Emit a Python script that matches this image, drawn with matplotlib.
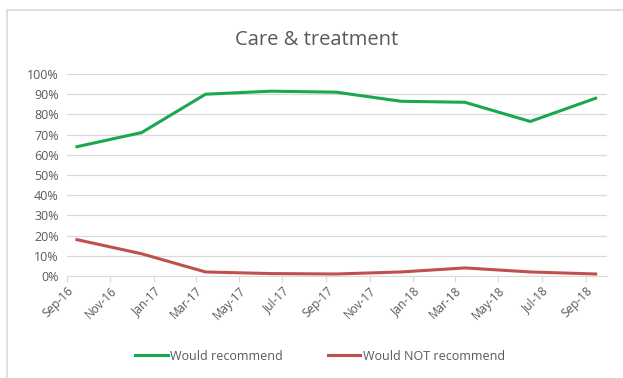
import datetime as dt
import matplotlib.pyplot as plt
import matplotlib.dates as mdates
from matplotlib.patches import Rectangle
from matplotlib.ticker import MultipleLocator, PercentFormatter

plt.rcParams['font.family'] = ['Open Sans', 'DejaVu Sans']

# quarterly survey results (mid-month)
survey_dates = [dt.date(2016, 9, 15), dt.date(2016, 12, 15), dt.date(2017, 3, 15),
                dt.date(2017, 6, 15), dt.date(2017, 9, 15), dt.date(2017, 12, 15),
                dt.date(2018, 3, 15), dt.date(2018, 6, 15), dt.date(2018, 9, 15)]
would_recommend = [64, 71, 90, 91.5, 91, 86.5, 86, 76.5, 88]
would_not_recommend = [18, 11, 2, 1.2, 1, 2, 4, 2, 1]

grey = '#595959'

fig = plt.figure(figsize=(6.23, 3.78), dpi=100)
# chart frame
fig.patches.append(Rectangle((7 / 623, -0.1), 1.2, 1.1 - 10 / 378, transform=fig.transFigure,
                             fill=False, edgecolor='#d9d9d9', linewidth=1.2))

ax = fig.add_axes([67 / 623, 1 - 276 / 378, 540 / 623, 202 / 378])
ax.plot(survey_dates, would_recommend, color='#1aa84e', linewidth=2.2, label='Would recommend')
ax.plot(survey_dates, would_not_recommend, color='#c0504d', linewidth=2.2, label='Would NOT recommend')

ax.set_ylim(0, 100)
ax.set_xlim(dt.date(2016, 9, 1), dt.date(2018, 10, 1))
ax.yaxis.set_major_locator(MultipleLocator(10))
ax.yaxis.set_major_formatter(PercentFormatter(decimals=0))
ax.xaxis.set_major_locator(mdates.MonthLocator(bymonth=[1, 3, 5, 7, 9, 11]))
ax.xaxis.set_major_formatter(mdates.DateFormatter('%b-%y'))

ax.grid(axis='y', color='#d9d9d9', linewidth=0.9)
ax.set_axisbelow(True)
for side in ['top', 'right', 'left']:
    ax.spines[side].set_visible(False)
ax.spines['bottom'].set_color('#d9d9d9')
ax.tick_params(axis='y', length=0, labelsize=9, labelcolor=grey, pad=6)
ax.tick_params(axis='x', length=4, color='#d9d9d9', labelsize=8.5, labelcolor=grey, pad=2)
plt.setp(ax.get_xticklabels(), rotation=45, ha='right', rotation_mode='anchor')

fig.text(317 / 623, 1 - 40 / 378, 'Care & treatment', ha='center', va='center',
         fontsize=14.5, color=grey)
fig.legend(loc='center', bbox_to_anchor=(320 / 623, 1 - 356 / 378), ncol=2, frameon=False,
           fontsize=9, labelcolor=grey, handlelength=2.6, handletextpad=0.2, columnspacing=3.6)

fig.savefig('out.png', dpi=100)
